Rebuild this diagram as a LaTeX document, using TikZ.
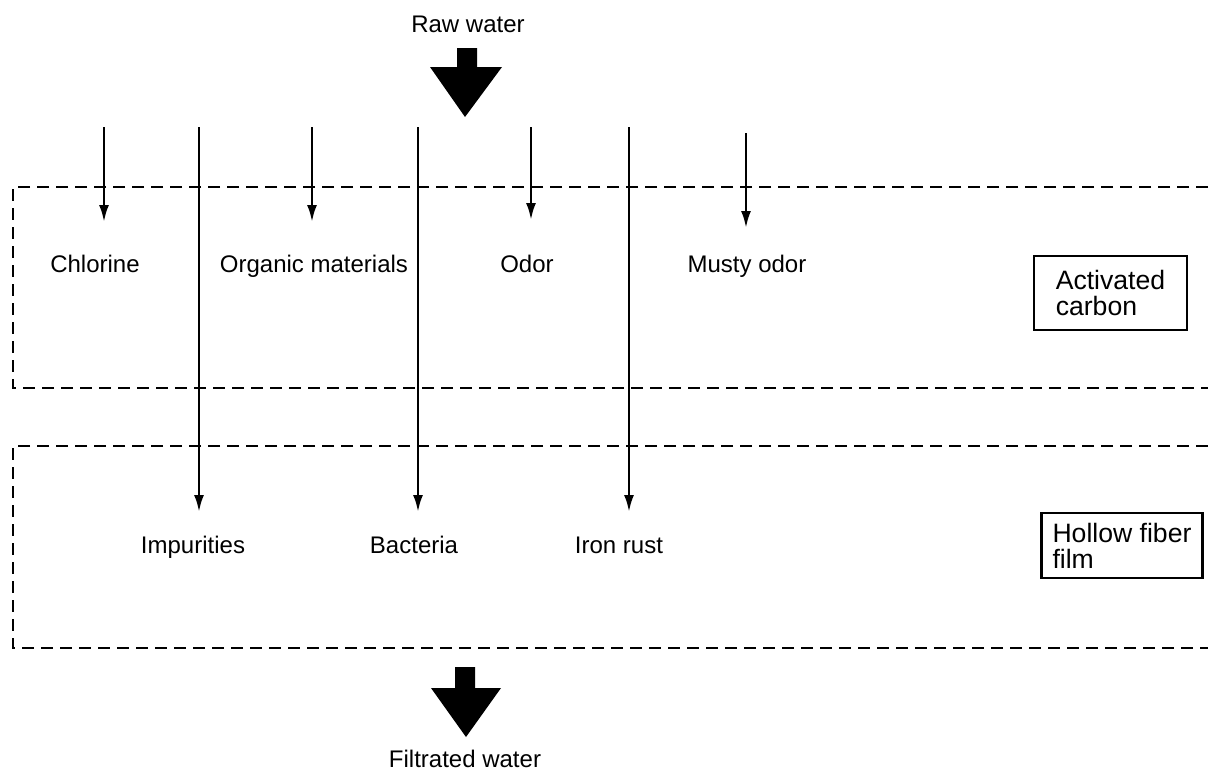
\documentclass[tikz,border=0pt]{standalone}
\usepackage{fontspec}
\setmainfont{Liberation Sans}
\usetikzlibrary{arrows.meta}
\tikzset{
  lbl/.style={font=\fontsize{12}{14}\selectfont, anchor=base, inner sep=0pt},
  layerbox/.style={draw, line width=1.1pt, align=left, anchor=center,
    font=\fontsize{13.3}{13}\selectfont},
  layer/.style={dashed, dash pattern=on 6pt off 3.5pt, line width=0.7pt},
  flow/.style={-{Latex[length=8.5pt,width=5pt]}, line width=1.3pt}
}
\begin{document}
\begin{tikzpicture}[x=0.5pt,y=-0.5pt]
\useasboundingbox (0,0) rectangle (1217,782);
% inlet and outlet
\node[lbl] (raw) at (468,32) {Raw water};
\node[lbl] (out) at (465,767) {Filtrated water};
\coordinate (rawtip) at (465,117);
\coordinate (outtip) at (466,737);
\fill (rawtip) -- ++(-35,-50) -- ++(27,0) -- ++(0,-19) -- ++(20,0) -- ++(0,19) -- ++(25,0) -- cycle;
\fill (outtip) -- ++(-35,-49) -- ++(24,0) -- ++(0,-21) -- ++(20,0) -- ++(0,21) -- ++(26,0) -- cycle;
% the two filter layers
\draw[layer] (1208,187) -- (13,187) -- (13,388) -- (1208,388);
\draw[layer] (1208,446) -- (13,446) -- (13,648) -- (1208,648);
\node[layerbox, inner xsep=11pt, minimum height=37pt] (ac) at (1110.5,293) {Activated\\carbon};
\node[layerbox, inner xsep=5.5pt, minimum height=32.5pt] (hf) at (1122,545.5) {Hollow fiber\\film};
% removed by activated carbon
\node[lbl] (chl) at (95,272) {Chlorine};
\node[lbl] (org) at (314,272) {Organic materials};
\node[lbl] (odor) at (527,272) {Odor};
\node[lbl] (musty) at (747,272) {Musty odor};
% removed by hollow fiber film
\node[lbl] (imp) at (193,553) {Impurities};
\node[lbl] (bac) at (414,553) {Bacteria};
\node[lbl] (rust) at (619,553) {Iron rust};
% flows
\coordinate (c1) at (104,127); \coordinate (e1) at (104,222);
\coordinate (c2) at (199,127); \coordinate (e2) at (199,512);
\coordinate (c3) at (312,127); \coordinate (e3) at (312,222);
\coordinate (c4) at (418,127); \coordinate (e4) at (418,512);
\coordinate (c5) at (531,127); \coordinate (e5) at (531,220);
\coordinate (c6) at (629,127); \coordinate (e6) at (629,512);
\coordinate (c7) at (746,133); \coordinate (e7) at (746,228);
\foreach \i in {1,...,7}
  \draw[flow] (c\i) -- (e\i);
\end{tikzpicture}
\end{document}
